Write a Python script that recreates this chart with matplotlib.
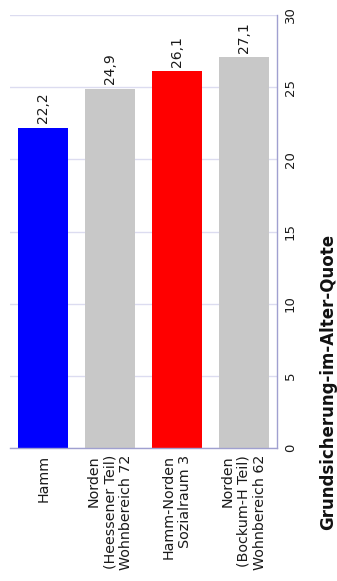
import matplotlib
matplotlib.use("Agg")
import matplotlib.pyplot as plt

plt.rcParams['font.family'] = ['DejaVu Sans']

# data
categories = ["Hamm",
              "Norden\n(Heessener Teil)\nWohnbereich 72",
              "Hamm-Norden\nSozialraum 3",
              "Norden\n(Bockum-H Teil)\nWohnbereich 62"]
values = [22.2, 24.9, 26.1, 27.1]
value_labels = ["22,2", "24,9", "26,1", "27,1"]
bar_colors = ["#0000ff", "#c8c8c8", "#ff0000", "#c8c8c8"]
yticks = [0, 5, 10, 15, 20, 25, 30]
ylabel = "Grundsicherung-im-Alter-Quote"

W, H = 337, 581
fig = plt.figure(figsize=(W / 100, H / 100), dpi=100)
ax = fig.add_axes([10 / W, 1 - 448 / H, 267 / W, 433 / H])

x = range(len(values))
bars = ax.bar(x, values, width=0.75, color=bar_colors, zorder=2)
ax.bar_label(bars, labels=value_labels, rotation=90, padding=3,
             fontsize=10, color="#1a1a1a")

ax.set_xlim(-0.5, 3.5)
ax.set_ylim(0, 30)

# value axis on the right
ax.yaxis.tick_right()
ax.set_yticks(yticks)
ax.set_yticklabels([str(t) for t in yticks], rotation=90, va="center",
                   fontsize=9.5, color="#1a1a1a")
ax.tick_params(axis="y", length=0, pad=5)
ax.grid(axis="y", color="#dcdcf0", linewidth=1, zorder=0)

ax.set_xticks(list(x))
ax.set_xticklabels(categories, rotation=90, ha="center", va="top",
                   fontsize=10.3, color="#1a1a1a", linespacing=1.2)
for lbl in ax.get_xticklabels():
    lbl.set_multialignment("right")
ax.tick_params(axis="x", length=0, pad=5)

for side in ["top", "left"]:
    ax.spines[side].set_visible(False)
for side in ["right", "bottom"]:
    ax.spines[side].set_color("#a0a0d0")
    ax.spines[side].set_linewidth(1)

ax.yaxis.set_label_position("right")
ax.set_ylabel(ylabel, fontweight="bold", fontsize=12, va="center",
              rotation=90, color="#111111")
ax.yaxis.set_label_coords(1.191, 0.152)

fig.savefig("out.png", dpi=100)
